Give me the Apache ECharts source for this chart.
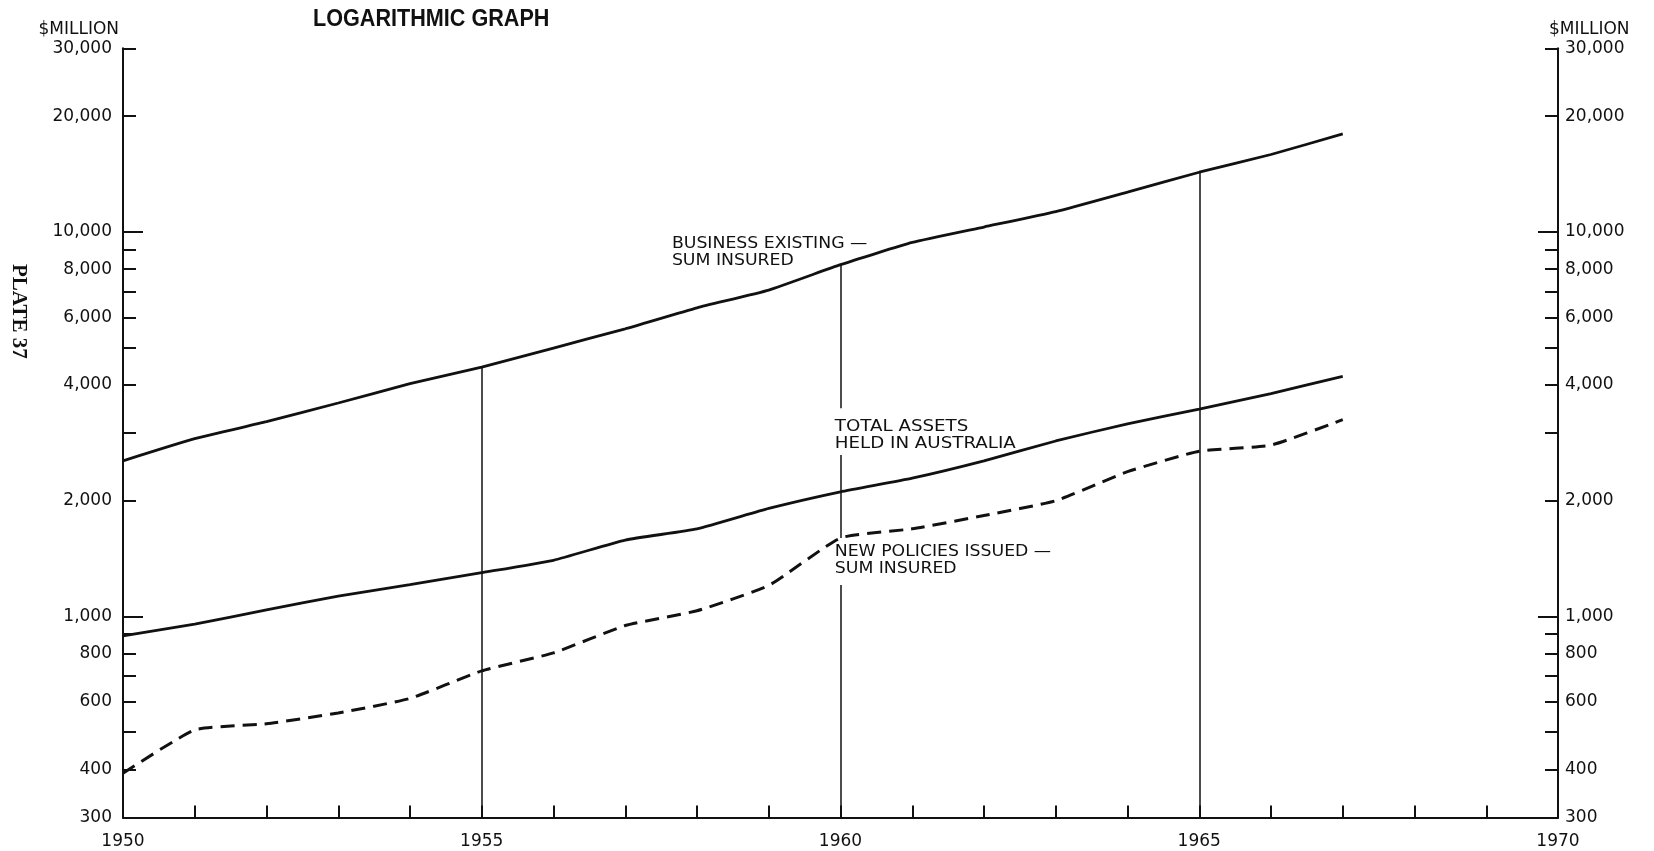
<!DOCTYPE html>
<html>
<head>
<meta charset="utf-8">
<script src="https://cdn.jsdelivr.net/npm/echarts@6/dist/echarts.min.js"></script>
<style>
  html, body { margin: 0; padding: 0; background: #fff; }
  #chart { width: 1654px; height: 851px; }
</style>
</head>
<body>
<div id="chart"></div>
<script>
// Life insurance in Australia, 1950-1967 ($ million, logarithmic scale)
const years = [1950, 1951, 1952, 1953, 1954, 1955, 1956, 1957, 1958, 1959,
               1960, 1961, 1962, 1963, 1964, 1965, 1966, 1967];
const businessExisting = [2540, 2900, 3210, 3590, 4030, 4450, 4990, 5600, 6350, 7060,
                          8220, 9390, 10300, 11300, 12700, 14300, 15900, 18000];
const totalAssets = [890, 955, 1040, 1130, 1210, 1300, 1400, 1580, 1690, 1910,
                     2110, 2290, 2540, 2860, 3170, 3460, 3800, 4210];
const newPolicies = [391, 507, 526, 561, 612, 722, 804, 947, 1035, 1204,
                     1600, 1690, 1830, 2000, 2380, 2690, 2790, 3250];

// Axis ticks and labels
const yLabelValues = [300, 400, 600, 800, 1000, 2000, 4000, 6000, 8000, 10000, 20000, 30000];
const yTickValues = [300, 400, 500, 600, 700, 800, 900, 1000, 2000, 3000, 4000, 5000,
                     6000, 7000, 8000, 9000, 10000, 20000, 30000];
const yLongTickValues = [1000, 10000];
const xLabelYears = [1950, 1955, 1960, 1965, 1970];

// Vertical guide lines run from the axis up to the business curve;
// the 1960 guide is broken where the line labels sit (value ranges left open)
const guideYears = [1955, 1960, 1965];
const guideBreaks = { 1960: [[3480, 2630], [1600, 1207]] };

// Line labels: text, [year, value] of the label's top-left corner, horizontal stretch
const lineLabels = [
  { text: 'BUSINESS EXISTING —\nSUM INSURED', at: [1957.65, 9780], stretch: 1.08 },
  { text: 'TOTAL ASSETS\nHELD IN AUSTRALIA', at: [1959.92, 3280], stretch: 1.14 },
  { text: 'NEW POLICIES ISSUED —\nSUM INSURED', at: [1959.92, 1550], stretch: 1.08 }
];

const INK = '#111';
const FONT = "'DejaVu Sans', sans-serif";

const chart = echarts.init(document.getElementById('chart'), null, { renderer: 'canvas' });

const pairs = arr => years.map((y, i) => [y, arr[i]]);
const fmt = v => Math.round(v).toLocaleString('en-US');

const yBase = {
  type: 'log', logBase: 10, min: 300, max: 30000,
  splitLine: { show: false },
  axisLine: { show: true, lineStyle: { color: INK, width: 2 } }
};
const tickStyle = { color: INK, width: 2 };
const labelStyle = { color: INK, fontFamily: FONT, fontSize: 17 };

// Guide segments: top (business curve) down to the axis minimum, minus any breaks
function guideSegments() {
  const segs = [];
  guideYears.forEach(y => {
    let top = businessExisting[years.indexOf(y)];
    (guideBreaks[y] || []).forEach(([hi, lo]) => {
      segs.push([{ coord: [y, top] }, { coord: [y, hi] }]);
      top = lo;
    });
    segs.push([{ coord: [y, top] }, { coord: [y, 300] }]);
  });
  return segs;
}

chart.setOption({
  animation: false,
  backgroundColor: '#fff',
  grid: { left: 123, right: 96, top: 48.5, bottom: 33.5, containLabel: false, outerBoundsMode: 'none' },
  xAxis: {
    type: 'value', min: 1950, max: 1970, interval: 1,
    splitLine: { show: false },
    axisLine: { show: true, lineStyle: { color: INK, width: 2 } },
    axisTick: { show: true, inside: true, length: 12, lineStyle: tickStyle },
    axisLabel: {
      ...labelStyle, margin: 16,
      formatter: v => (xLabelYears.indexOf(Math.round(v)) >= 0 ? String(Math.round(v)) : '')
    }
  },
  yAxis: [
    {
      ...yBase, position: 'left',
      axisTick: { show: true, inside: true, length: 13, customValues: yTickValues, lineStyle: tickStyle },
      axisLabel: { ...labelStyle, margin: 11, customValues: yLabelValues, formatter: fmt }
    },
    {
      ...yBase, position: 'left',
      axisTick: { show: true, inside: true, length: 20, customValues: yLongTickValues, lineStyle: tickStyle },
      axisLabel: { show: false }
    },
    {
      ...yBase, position: 'right',
      axisTick: { show: true, inside: true, length: 13, customValues: yTickValues, lineStyle: tickStyle },
      axisLabel: { ...labelStyle, margin: 7, customValues: yLabelValues, formatter: fmt }
    },
    {
      ...yBase, position: 'right',
      axisTick: { show: true, inside: true, length: 20, customValues: yLongTickValues, lineStyle: tickStyle },
      axisLabel: { show: false }
    }
  ],
  series: [
    {
      name: 'Business existing - sum insured',
      type: 'line', yAxisIndex: 0, symbol: 'none', smooth: 0.15,
      lineStyle: { color: INK, width: 2.8 },
      data: pairs(businessExisting),
      markLine: {
        silent: true, symbol: ['none', 'none'],
        label: { show: false },
        lineStyle: { color: INK, width: 1.5, type: 'solid' },
        data: guideSegments()
      }
    },
    {
      name: 'Total assets held in Australia',
      type: 'line', yAxisIndex: 0, symbol: 'none', smooth: 0.15,
      lineStyle: { color: INK, width: 2.8 },
      data: pairs(totalAssets)
    },
    {
      name: 'New policies issued - sum insured',
      type: 'line', yAxisIndex: 0, symbol: 'none', smooth: 0.15,
      lineStyle: { color: INK, width: 3, type: [14, 8] },
      data: pairs(newPolicies)
    }
  ]
});

// Title, plate number, unit captions and line labels
const topLeft = chart.convertToPixel({ xAxisIndex: 0, yAxisIndex: 0 }, [1950, 30000]);
const topRight = chart.convertToPixel({ xAxisIndex: 0, yAxisIndex: 0 }, [1970, 30000]);
const unitFont = "17px 'DejaVu Sans', sans-serif";
const graphics = [
  {
    type: 'text', x: 313, y: 7, scaleX: 0.9, z: 100,
    style: {
      text: 'LOGARITHMIC GRAPH', fill: INK,
      font: "bold 24px 'Liberation Sans Narrow', 'Liberation Sans', sans-serif",
      verticalAlign: 'top'
    }
  },
  {
    type: 'text', x: 29, y: 264, rotation: -Math.PI / 2, z: 100,
    style: {
      text: 'PLATE 37', fill: INK,
      font: "bold 21px 'Liberation Serif', 'DejaVu Serif', serif",
      verticalAlign: 'top'
    }
  },
  {
    type: 'text', x: topLeft[0] - 4, y: topLeft[1] - 10, z: 100,
    style: { text: '$MILLION', fill: INK, font: unitFont, align: 'right', verticalAlign: 'bottom' }
  },
  {
    type: 'text', x: topRight[0] - 9, y: topRight[1] - 10, z: 100,
    style: { text: '$MILLION', fill: INK, font: unitFont, align: 'left', verticalAlign: 'bottom' }
  }
];
lineLabels.forEach(l => {
  const p = chart.convertToPixel({ xAxisIndex: 0, yAxisIndex: 0 }, l.at);
  graphics.push({
    type: 'text', x: p[0], y: p[1], scaleX: l.stretch, z: 100,
    style: {
      text: l.text, fill: INK, font: "16px 'DejaVu Sans', sans-serif",
      lineHeight: 17, verticalAlign: 'top', align: 'left'
    }
  });
});
chart.setOption({ graphic: graphics });
</script>
</body>
</html>
